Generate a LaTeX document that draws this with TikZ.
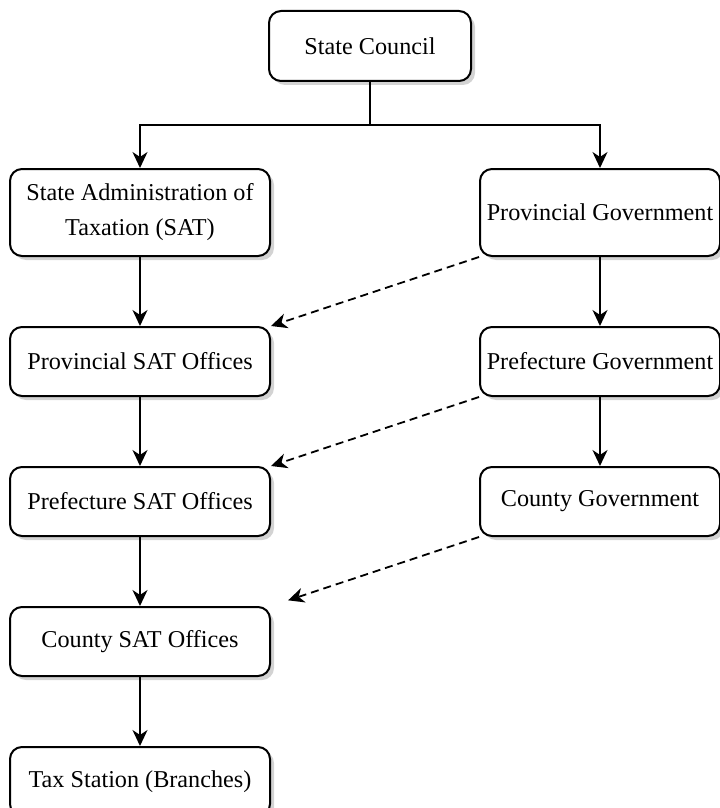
\documentclass[tikz,border=0pt]{standalone}
\usepackage{fontspec}
\setmainfont{Liberation Serif}
\usetikzlibrary{arrows.meta,positioning,calc,shadows}

\begin{document}
\begin{tikzpicture}[
    box/.style={draw, line width=1pt, rounded corners=6pt, fill=white,
                minimum width=130pt, minimum height=34.5pt, align=center,
                font=\fontsize{12.1}{17.5}\selectfont,
                drop shadow={opacity=0.35, shadow xshift=2pt, shadow yshift=-2pt}},
    gov/.style={box, minimum width=120pt},
    link/.style={line width=1pt, -{Stealth[length=8pt, width=7.5pt, inset=2.5pt]}},
    dlink/.style={link, line width=0.9pt, dash pattern=on 4pt off 2.5pt},
    node distance=34.5pt
  ]
    \useasboundingbox (0,0) rectangle (359.5pt,-404pt);

    \node[box, minimum height=43.5pt] (sat) at (70pt,-106.25pt) {State Administration of\\Taxation (SAT)};
    \node[gov, minimum height=43.5pt, right=104pt of sat] (pgov) {Provincial Government};
    \coordinate (mid) at ($(sat.north)!0.5!(pgov.north)$);
    \node[box, minimum width=101pt, minimum height=35pt, above=43pt of mid] (sc) {State Council};

    \node[box, below=of sat]  (psat) {Provincial SAT Offices};
    \node[box, below=of psat] (fsat) {Prefecture SAT Offices};
    \node[box, below=of fsat] (csat) {County SAT Offices};
    \node[box, below=of csat] (tax)  {Tax Station (Branches)};

    \node[gov, below=of pgov] (fgov) {Prefecture Government};
    \node[gov, below=of fgov] (cgov) {County Government};

    \coordinate (split) at ($(sc.south)!0.5!(sc.south |- sat.north)$);
    \draw[line width=1pt] (sc.south) -- (split);
    \draw[link] (split) -| (sat.north);
    \draw[link] (split) -| (pgov.north);

    \draw[link] (sat) -- (psat);
    \draw[link] (psat) -- (fsat);
    \draw[link] (fsat) -- (csat);
    \draw[link] (csat) -- (tax);
    \draw[link] (pgov) -- (fgov);
    \draw[link] (fgov) -- (cgov);

    \draw[dlink] (pgov.south west) -- (psat.north east);
    \draw[dlink] (fgov.south west) -- (fsat.north east);
    \draw[dlink, shorten >=9pt] (cgov.south west) -- (csat.north east);
  \end{tikzpicture}
\end{document}
